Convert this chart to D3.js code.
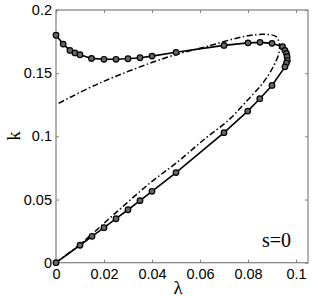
<!DOCTYPE html>
<html><head><meta charset="utf-8">
<script src="https://cdn.jsdelivr.net/npm/d3@7"></script>
<style>body{margin:0;background:#fff}svg{display:block}</style>
</head><body>
<script>
const xTicks=[0,0.02,0.04,0.06,0.08,0.1];
const xTickLabels=["0","0.02","0.04","0.06","0.08","0.1"];
const yTicks=[0,0.05,0.1,0.15,0.2];
const yTickLabels=["0","0.05","0.1","0.15","0.2"];
// solid curve with markers (lambda, k)
const solidLambda=[0,0.003,0.0058,0.0079,0.010,0.0148,0.020,0.025,0.030,0.035,0.040,0.050,0.070,0.080,0.085,0.090,0.0944,0.0954,0.0960,0.0963,0.0964,0.0960,0.0954,0.090,0.0849,0.0799,0.070,0.050,0.040,0.035,0.030,0.025,0.020,0.015,0.010,0];
const solidK=[0.180,0.173,0.168,0.166,0.1646,0.1617,0.161,0.161,0.1614,0.1622,0.1635,0.1665,0.172,0.174,0.1744,0.1736,0.171,0.168,0.1657,0.163,0.160,0.158,0.155,0.1403,0.1298,0.120,0.1029,0.0713,0.0565,0.0491,0.0419,0.0348,0.0277,0.0209,0.0138,0];
// dash-dot curve
const dashLambda=[0,0.0113,0.0252,0.039,0.0508,0.062,0.072,0.079,0.0861,0.0905,0.093,0.093,0.0917,0.0875,0.079,0.0626,0.047,0.018,0.001];
const dashK=[0,0.0166,0.040,0.0628,0.080,0.098,0.113,0.127,0.142,0.155,0.167,0.174,0.179,0.1807,0.1793,0.171,0.163,0.142,0.126];

const W=312,H=297;
const m={l:56,t:10,r:308,b:262.7};
const svg=d3.select("body").append("svg").attr("width",W).attr("height",H);
const x=d3.scaleLinear().domain([0,0.105]).range([m.l,m.r]);
const y=d3.scaleLinear().domain([0,0.2]).range([m.b,m.t]);
const axisColor="#808080";

// frame
svg.append("rect").attr("x",m.l).attr("y",m.t).attr("width",m.r-m.l).attr("height",m.b-m.t)
  .attr("fill","none").attr("stroke",axisColor).attr("stroke-width",1.2);

const gx=svg.append("g").attr("transform",`translate(0,${m.b})`)
  .call(d3.axisBottom(x).tickValues(xTicks).tickFormat((d,i)=>xTickLabels[i]).tickSizeInner(-3).tickSizeOuter(0).tickPadding(6));
const gxt=svg.append("g").attr("transform",`translate(0,${m.t})`)
  .call(d3.axisTop(x).tickValues(xTicks).tickFormat("").tickSizeInner(-3).tickSizeOuter(0));
const gy=svg.append("g").attr("transform",`translate(${m.l},0)`)
  .call(d3.axisLeft(y).tickValues(yTicks).tickFormat((d,i)=>yTickLabels[i]).tickSizeInner(-3).tickSizeOuter(0).tickPadding(4));
const gyr=svg.append("g").attr("transform",`translate(${m.r},0)`)
  .call(d3.axisRight(y).tickValues(yTicks).tickFormat("").tickSizeInner(-3).tickSizeOuter(0));
[gx,gxt,gy,gyr].forEach(g=>{
  g.select(".domain").remove();
  g.selectAll("line").attr("stroke",axisColor);
  g.selectAll("text").attr("fill","#000").style("font-family","'Liberation Sans',Arial,sans-serif").style("font-size","14.5px");
});

const dashData=dashLambda.map((d,i)=>[d,dashK[i]]);
const solidData=solidLambda.map((d,i)=>[d,solidK[i]]);

svg.append("path").datum(dashData)
  .attr("d",d3.line().x(d=>x(d[0])).y(d=>y(d[1])).curve(d3.curveCatmullRom))
  .attr("fill","none").attr("stroke","#000").attr("stroke-width",1.5)
  .attr("stroke-dasharray","6,2.5,1.5,2.5");

svg.append("path").datum(solidData)
  .attr("d",d3.line().x(d=>x(d[0])).y(d=>y(d[1])))
  .attr("fill","none").attr("stroke","#000").attr("stroke-width",1.6);

svg.append("g").selectAll("circle").data(solidData).enter().append("circle")
  .attr("cx",d=>x(d[0])).attr("cy",d=>y(d[1])).attr("r",2.8)
  .attr("fill","#666").attr("stroke","#000").attr("stroke-width",1.2);

svg.append("text").attr("x",178).attr("y",294).attr("text-anchor","middle")
  .style("font-family","'Liberation Serif','Times New Roman',serif").style("font-size","19px").text("λ");
svg.append("text").attr("transform",`translate(20,136) rotate(-90)`).attr("text-anchor","middle")
  .style("font-family","'Liberation Serif','Times New Roman',serif").style("font-size","19px").text("k");
svg.append("text").attr("x",291).attr("y",247).attr("text-anchor","end")
  .style("font-family","'Liberation Serif','Times New Roman',serif").style("font-size","20px").text("s=0");
</script>
</body></html>
